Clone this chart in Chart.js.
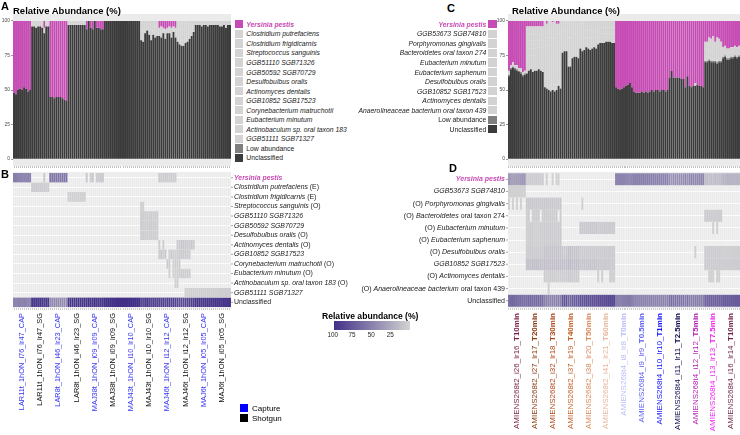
<!DOCTYPE html>
<html><head><meta charset="utf-8">
<script src="https://cdn.jsdelivr.net/npm/chart.js@4.4.1/dist/chart.umd.min.js"></script>
<style>
body{margin:0;width:740px;height:435px;position:relative;overflow:hidden;background:#fff;font-family:'Liberation Sans',Arial,sans-serif;color:#000}
.abs{position:absolute}
.tag{position:absolute;font-weight:bold;font-size:11px;line-height:11px}
.ttl{position:absolute;font-weight:bold;font-size:9.5px;line-height:10px;white-space:nowrap}
.legrow{display:flex;align-items:center;height:9.55px;font-size:6.8px;white-space:nowrap;color:#1a1a1a}
.sw{width:8.3px;height:8.3px;flex:none}
</style></head><body>
<canvas id="cA" class="abs" style="left:0;top:10px" width="232" height="162"></canvas>
<canvas id="cC" class="abs" style="left:494px;top:10px" width="246" height="162"></canvas>
<canvas id="cB" class="abs" style="left:0;top:165px" width="370" height="270"></canvas>
<canvas id="cD" class="abs" style="left:355px;top:165px" width="385" height="270"></canvas>
<div class="tag" style="left:1px;top:1px">A</div>
<div class="tag" style="left:1px;top:169px">B</div>
<div class="tag" style="left:447px;top:3px">C</div>
<div class="tag" style="left:449px;top:163px">D</div>
<div class="ttl" style="left:13px;top:6px">Relative Abundance (%)</div>
<div class="ttl" style="left:512px;top:6px">Relative Abundance (%)</div>
<div id="legA" class="abs" style="left:235px;top:19.5px"></div>
<div id="legC" class="abs" style="left:340px;top:19.5px;width:156.5px"></div>
<div id="cbar" class="abs" style="left:0;top:0"></div>
<div id="capLeg" class="abs" style="left:240px;top:403px"></div>
<script>
// ---------------- DATA ----------------
const Z9 = [0,0,0,0,0,0,0,0,0];
const COLS = 9; // replicate columns per sample

// Panel A / B samples
const samplesA = ['LAR11t_1hON_i76_lr47_CAP','LAR11t_1hON_i76_lr47_SG','LAR8t_1hON_i46_lr23_CAP','LAR8t_1hON_i46_lr23_SG',
  'MAJ38t_1hON_i09_lr09_CAP','MAJ38t_1hON_i09_lr09_SG','MAJ43t_1hON_i10_lr10_CAP','MAJ43t_1hON_i10_lr10_SG',
  'MAJ46t_1hON_i12_lr12_CAP','MAJ46t_1hON_i12_lr12_SG','MAJ6t_1hON_i05_lr05_CAP','MAJ6t_1hON_i05_lr05_SG'];
const sampleTypeA = ['Capture','Shotgun','Capture','Shotgun','Capture','Shotgun','Capture','Shotgun','Capture','Shotgun','Capture','Shotgun'];

const aYersinia = [52,53,50,49,50,48,49,51,50, 0,0,0,0,0,0,5,0,0, 55,55,56,55,55,55,56,57,58, ...Z9,
  6,0,5,6,0,5,5,6,6, ...Z9, ...Z9, ...Z9, 5,4,5,6,5,4,5,4,5, ...Z9, ...Z9, ...Z9];
const aCputrefaciens = [...Z9, 4,4,5,4,4,5,4,4,4, ...Z9, ...Z9, ...Z9, ...Z9, ...Z9, ...Z9, ...Z9, ...Z9, ...Z9, ...Z9];
const aCfrigidicarnis = [...Z9, ...Z9, ...Z9, 3,3,3,3,3,3,3,3,3, ...Z9, ...Z9, ...Z9, ...Z9, ...Z9, ...Z9, ...Z9, ...Z9];
const aStreptococcus = [...Z9, ...Z9, ...Z9, ...Z9, ...Z9, ...Z9, ...Z9, 3,3,0,0,0,0,0,0,0, ...Z9, ...Z9, ...Z9, ...Z9];
const aGGB51110 = [...Z9, ...Z9, ...Z9, ...Z9, ...Z9, ...Z9, ...Z9, 4,4,3,2,3,5,3,4,4, ...Z9, ...Z9, ...Z9, ...Z9];
const aGGB50592 = [...Z9, ...Z9, ...Z9, ...Z9, ...Z9, ...Z9, ...Z9, 4,4,3,3,4,5,4,4,4, ...Z9, ...Z9, ...Z9, ...Z9];
const aDesulfobulbus = [...Z9, ...Z9, ...Z9, ...Z9, ...Z9, ...Z9, ...Z9, 3,4,3,2,3,4,3,4,3, ...Z9, ...Z9, ...Z9, ...Z9];
const aActinomyces = [...Z9, ...Z9, ...Z9, ...Z9, ...Z9, ...Z9, ...Z9, ...Z9, 3,0,2,0,0,0,0,0,0, 5,6,8,8,6,6,5,7,5, ...Z9, ...Z9];
const aGGB10852 = [...Z9, ...Z9, ...Z9, ...Z9, ...Z9, ...Z9, ...Z9, ...Z9, 3,8,2,7,0,2,7,2,3, 4,5,6,6,5,4,3,0,0, ...Z9, ...Z9];
const aCorynebacterium = [...Z9, ...Z9, ...Z9, ...Z9, ...Z9, ...Z9, ...Z9, ...Z9, 0,0,0,0,4,2,0,1,2, 2,3,0,0,0,0,0,0,0, ...Z9, ...Z9];
const aEubMinutum = [...Z9, ...Z9, ...Z9, ...Z9, ...Z9, ...Z9, ...Z9, ...Z9, 0,0,0,0,0,1,0,1,1, 2,3,4,4,3,3,3,0,0, ...Z9, ...Z9];
const aActinobaculum = [...Z9, ...Z9, ...Z9, ...Z9, ...Z9, ...Z9, ...Z9, ...Z9, 0,0,0,0,0,0,0,0,1, 2,0,0,0,0,0,0,0,0, ...Z9, ...Z9];
const aGGB51111 = [...Z9, ...Z9, ...Z9, ...Z9, ...Z9, ...Z9, ...Z9, ...Z9, ...Z9, 0,0,0,0,2,2,2,4,3, 3,3,3,4,3,3,4,3,3, 3,3,3,4,4,3,5,3,3];
const aLowAbundance = [...Z9, ...Z9, ...Z9, ...Z9, ...Z9, ...Z9, ...Z9, ...Z9, ...Z9, ...Z9, ...Z9, ...Z9];
const aUnclassified = [48,47,50,51,50,52,51,49,50, 96,96,95,96,96,95,91,96,96, 45,45,44,45,45,45,44,43,42,
  97,97,97,97,97,97,97,97,97, 94,100,95,94,100,95,95,94,94, 100,100,100,100,100,100,100,100,100,
  100,100,100,100,100,100,100,100,100, 86,85,91,93,90,86,90,88,89, 89,88,91,87,91,91,88,92,88,
  85,83,82,82,84,85,87,89,92, 97,97,97,96,97,97,96,97,97, 97,97,97,96,96,97,95,97,97];

// Panel C / D samples
const samplesC = ['AMIENS268t2_i26_lr16_','AMIENS268t2_i27_lr17_','AMIENS268t2_i32_lr18_','AMIENS268t2_i37_lr19_',
  'AMIENS268t2_i38_lr20_','AMIENS268t2_i41_lr21_','AMIENS268t4_i8_lr8_','AMIENS268t4_i9_lr9_','AMIENS268t4_i10_lr10_',
  'AMIENS268t4_i11_lr11_','AMIENS268t4_i12_lr12_','AMIENS268t4_i13_lr13_','AMIENS268t4_i16_lr14_'];
const timesC = ['T10min','T20min','T30min','T40min','T50min','T60min','T0min','T0.5min','T1min','T2.5min','T5min','T7.5min','T10min'];

const cYersinia = [36,32,30,32,32,34,34,37,36, 4,4,4,4,4,4,4,4,4, 0,2,0,0,1,0,2,2,0, ...Z9, ...Z9, ...Z9,
  48,49,50,49,48,47,46,45,48, 51,52,52,52,51,52,51,52,51, 50,51,50,50,51,50,50,51,50,
  41,36,41,41,41,41,42,42,48, 40,47,48,47,45,46,47,47,48, 15,15,12,13,11,15,12,13,15, 19,18,20,20,19,19,18,19,18];
const cGGB53673 = [2,2,2,2,2,2,2,2,2, ...Z9, ...Z9, ...Z9, ...Z9, ...Z9, ...Z9, ...Z9, ...Z9, ...Z9, ...Z9, ...Z9, ...Z9];
const cPorphyromonas = [1,0,1,0,1,0,1,0,0, 6,6,6,6,6,6,6,6,6, 7,7,7,7,7,7,7,7,7, ...Z9, 0,2,0,0,0,0,0,0,0, ...Z9, ...Z9, ...Z9, ...Z9, ...Z9, ...Z9, ...Z9, ...Z9];
const cBacteroidetes = [...Z9, 4,4,0,4,4,4,4,0,4, 5,5,5,5,5,5,5,0,5, ...Z9, ...Z9, ...Z9, ...Z9, ...Z9, ...Z9, ...Z9, ...Z9, 5,5,5,5,5,5,5,5,5, ...Z9];
const cEubMinutum = [...Z9, 4,3,5,3,3,2,3,5,4, 5,5,5,6,5,6,5,6,6, ...Z9, 7,7,7,6,7,7,7,6,7, 5,5,5,5,5,5,5,5,5, ...Z9, ...Z9, ...Z9, ...Z9, ...Z9, 0,0,0,0,2,0,2,0,0, ...Z9];
const cEubSaphenum = [...Z9, 3,3,5,3,3,3,2,4,4, 5,5,5,6,5,6,5,6,6, ...Z9, ...Z9, ...Z9, ...Z9, ...Z9, ...Z9, ...Z9, ...Z9, ...Z9, ...Z9];
const cDesulfobulbus = [...Z9, 5,5,5,5,5,5,5,5,5, 10,10,10,10,10,10,10,10,10, 7,6,6,12,12,9,9,9,9, 5,5,5,5,5,5,5,5,5,
  4,4,4,4,4,4,4,4,4, ...Z9, ...Z9, ...Z9, ...Z9, 0,0,0,0,2,0,0,0,0, 4,4,4,4,4,4,4,4,4, 3,3,3,3,3,3,3,3,3];
const cGGB10852 = [...Z9, 12,11,10,12,11,12,11,12,10, 12,12,12,12,12,12,12,12,12, 12,12,12,15,15,13,12,12,13, 8,8,9,8,8,9,8,8,8,
  6,7,5,7,6,6,4,5,5, ...Z9, ...Z9, ...Z9, ...Z9, ...Z9, 5,5,5,5,5,5,5,5,5, 4,4,4,4,4,4,4,4,4];
const cActinomyces = [...Z9, ...Z9, 4,3,4,5,5,5,4,4,3, 4,4,4,6,6,5,5,5,5, ...Z9, 2,0,2,0,0,0,2,2,2, ...Z9, ...Z9, ...Z9, ...Z9, ...Z9, 0,0,2,2,2,0,2,2,0, ...Z9];
const cAnaerolineaceae = [...Z9, ...Z9, 0,0,2,0,0,0,0,0,0, ...Z9, ...Z9, ...Z9, ...Z9, ...Z9, ...Z9, ...Z9, ...Z9, ...Z9, ...Z9];
const cLowAbundance = [1,1,1,1,1,1,1,1,1, ...Z9, ...Z9, ...Z9, ...Z9, ...Z9, ...Z9, ...Z9, ...Z9, ...Z9, ...Z9, 1,1,1,1,1,1,1,1,1, 1,1,1,1,1,1,1,1,1];
const cUnclassified = [60,65,66,65,64,63,62,60,61, 62,64,65,63,64,64,65,64,63, 52,51,50,49,50,49,50,53,51,
  77,78,78,67,67,73,74,74,73, 80,78,79,81,80,79,80,81,80, 83,84,84,84,85,85,85,84,84,
  52,51,50,51,52,53,54,55,52, 49,48,48,48,49,48,49,48,49, 50,49,50,50,49,50,50,49,50,
  59,64,59,59,59,59,58,58,52, 60,53,52,53,53,54,53,53,52, 70,70,71,70,70,70,69,70,70, 73,74,72,72,73,73,74,73,74];

const yTicks = [0,25,50,75,100];
const cbarTicks = [100,75,50,25];

// ---------------- STYLE ----------------
const MAGENTA = '#c64bb4', LIGHT = '#d3d3d3', LOWC = '#7f7f7f', DARK = '#3b3b3b', PANEL = '#ebebeb';
const HI = [66,48,135], LO = [211,211,211];
const FONT = "'Liberation Sans', Arial, sans-serif";
Chart.defaults.font.family = FONT;

function heatColor(v){
  const t = Math.min(v,100)/100;
  return 'rgb(' + LO.map((c,i)=>Math.round(c+(HI[i]-c)*t)).join(',') + ')';
}
function fontFor(st, size){
  if (st==='y') return `italic bold ${size}px ${FONT}`;
  if (st==='i') return `italic ${size}px ${FONT}`;
  if (st==='b') return `bold ${size}px ${FONT}`;
  return `${size}px ${FONT}`;
}
function drawSegs(ctx, segs, x, y, align, size, color){
  const w = segs.map(s=>{ctx.font=fontFor(s[1],size); return ctx.measureText(s[0]).width;});
  const total = w.reduce((a,b)=>a+b,0);
  let cx = align==='right' ? x-total : x;
  ctx.textAlign='left';
  segs.forEach((s,i)=>{ctx.font=fontFor(s[1],size); ctx.fillStyle = s[1]==='y' ? MAGENTA : (s[2]||color); ctx.fillText(s[0],cx,y); cx+=w[i];});
}
const panelBg = {id:'panelBg', beforeDraw(chart){const {ctx,chartArea:a}=chart; ctx.save(); ctx.fillStyle=PANEL; ctx.fillRect(a.left,a.top,a.right-a.left,a.bottom-a.top); ctx.restore();}};

function colLabels(names){ const out=[]; names.forEach(n=>{for(let k=0;k<COLS;k++) out.push(n+'#'+(k+1));}); return out; }

function stackChart(id, labels, series, yWidth, pad){
  return new Chart(document.getElementById(id), {
    type:'bar',
    data:{labels, datasets: series.map(s=>({label:s[0], data:s[1], backgroundColor:s[2],
      borderColor:'rgba(255,255,255,0.06)', borderWidth:{left:0.35,right:0.35,top:0,bottom:0}, borderSkipped:false,
      barPercentage:1, categoryPercentage:1}))},
    options:{responsive:false, animation:false, events:[], layout:{padding:pad},
      plugins:{legend:{display:false}, tooltip:{enabled:false}},
      scales:{
        x:{stacked:true, offset:true, grid:{display:true, offset:false, drawOnChartArea:false, drawTicks:true, tickLength:2, color:'#9a9a9a', lineWidth:0.6},
           border:{display:false}, ticks:{display:false}, afterFit:s=>{s.height=6;}},
        y:{stacked:true, min:-5, max:105, grid:{display:true, drawOnChartArea:false, tickLength:2, color:'#555', lineWidth:0.6},
           border:{display:false}, ticks:{font:{size:5}, color:'#4d4d4d', padding:1},
           afterBuildTicks:s=>{s.ticks=yTicks.map(v=>({value:v}));}, afterFit:s=>{s.width=yWidth;}}
      }},
    plugins:[panelBg]
  });
}

function heatChart(id, labels, rows, pad, labelCfg){
  const n = rows.length;
  const lblPlugin = {id:'lbl', afterDraw(chart){
    const ctx=chart.ctx, a=chart.chartArea, xs=chart.scales.x, ys=chart.scales.y;
    ctx.save(); ctx.textBaseline='middle';
    labelCfg.rowLabels.forEach((segs,r)=>{
      const y = ys.getPixelForValue(r);
      ctx.strokeStyle='#666'; ctx.lineWidth=0.6; ctx.beginPath();
      if (labelCfg.side==='right'){ ctx.moveTo(a.right,y); ctx.lineTo(a.right+2,y); ctx.stroke(); drawSegs(ctx,segs,a.right+3,y,'left',labelCfg.rowSize,'#1a1a1a'); }
      else { ctx.moveTo(a.left,y); ctx.lineTo(a.left-2,y); ctx.stroke(); drawSegs(ctx,segs,a.left-3,y,'right',labelCfg.rowSize,'#1a1a1a'); }
    });
    labelCfg.sampleLabels.forEach((segs,i)=>{
      const x = xs.getPixelForValue(i*COLS+(COLS-1)/2);
      ctx.save(); ctx.translate(x, a.bottom+5); ctx.rotate(-Math.PI/2);
      drawSegs(ctx, segs, 0, 0, 'right', labelCfg.sampleSize, labelCfg.sampleColors[i]);
      ctx.restore();
    });
    ctx.restore();
  }};
  return new Chart(document.getElementById(id), {
    type:'bar',
    data:{labels, datasets: rows.map((vals,r)=>({data: vals.map(v=> v>0 ? [r-0.5, r+0.5] : null),
      backgroundColor: vals.map(v=>heatColor(v)), grouped:false, barPercentage:1, categoryPercentage:1,
      borderColor:'rgba(255,255,255,0.10)', borderWidth:{left:0.3,right:0.3,top:0,bottom:0}, borderSkipped:false}))},
    options:{responsive:false, animation:false, events:[], layout:{padding:pad},
      plugins:{legend:{display:false}, tooltip:{enabled:false}},
      scales:{
        x:{offset:true, grid:{display:true, offset:false, drawOnChartArea:true, drawTicks:true, tickLength:2, color:'rgba(255,255,255,0.5)', tickColor:'#9a9a9a', lineWidth:0.5},
           border:{display:false}, ticks:{display:false}, afterFit:s=>{s.height=127;}},
        y:{min:-0.6, max:n-0.4, reverse:true, grid:{display:true, drawTicks:false, color:'#ffffff', lineWidth:0.8},
           border:{display:false}, ticks:{display:false}, afterBuildTicks:s=>{s.ticks=rows.map((_,i)=>({value:i}));}, afterFit:s=>{s.width=0;}}
      }},
    plugins:[panelBg, lblPlugin]
  });
}

// ---------------- PANEL A ----------------
const labelsA = colLabels(samplesA);
stackChart('cA', labelsA, [
  ['Unclassified', aUnclassified, DARK], ['Low abundance', aLowAbundance, LOWC],
  ['GGB51111 SGB71327', aGGB51111, LIGHT], ['Actinobaculum sp. oral taxon 183', aActinobaculum, LIGHT],
  ['Eubacterium minutum', aEubMinutum, LIGHT], ['Corynebacterium matruchotii', aCorynebacterium, LIGHT],
  ['GGB10852 SGB17523', aGGB10852, LIGHT], ['Actinomyces dentalis', aActinomyces, LIGHT],
  ['Desulfobulbus oralis', aDesulfobulbus, LIGHT], ['GGB50592 SGB70729', aGGB50592, LIGHT],
  ['GGB51110 SGB71326', aGGB51110, LIGHT], ['Streptococcus sanguinis', aStreptococcus, LIGHT],
  ['Clostridium frigidicarnis', aCfrigidicarnis, LIGHT], ['Clostridium putrefaciens', aCputrefaciens, LIGHT],
  ['Yersinia pestis', aYersinia, MAGENTA]
], 13, {left:0, top:3.4, right:1, bottom:0});

// ---------------- PANEL C ----------------
const labelsC = colLabels(samplesC);
stackChart('cC', labelsC, [
  ['Unclassified', cUnclassified, DARK], ['Low abundance', cLowAbundance, LOWC],
  ['Anaerolineaceae bacterium oral taxon 439', cAnaerolineaceae, LIGHT], ['Actinomyces dentalis', cActinomyces, LIGHT],
  ['GGB10852 SGB17523', cGGB10852, LIGHT], ['Desulfobulbus oralis', cDesulfobulbus, LIGHT],
  ['Eubacterium saphenum', cEubSaphenum, LIGHT], ['Eubacterium minutum', cEubMinutum, LIGHT],
  ['Bacteroidetes oral taxon 274', cBacteroidetes, LIGHT], ['Porphyromonas gingivalis', cPorphyromonas, LIGHT],
  ['GGB53673 SGB74810', cGGB53673, LIGHT], ['Yersinia pestis', cYersinia, MAGENTA]
], 14, {left:0, top:3.4, right:0, bottom:0});

// ---------------- PANEL B ----------------
const rowLabelsB = [
  [['Yersinia pestis','y']],
  [['Clostridium putrefaciens','i'],[' (E)','n']],
  [['Clostridium frigidicarnis','i'],[' (E)','n']],
  [['Streptococcus sanguinis','i'],[' (O)','n']],
  [['GGB51110 SGB71326','i']],
  [['GGB50592 SGB70729','i']],
  [['Desulfobulbus oralis','i'],[' (O)','n']],
  [['Actinomyces dentalis','i'],[' (O)','n']],
  [['GGB10852 SGB17523','i']],
  [['Corynebacterium matruchotii','i'],[' (O)','n']],
  [['Eubacterium minutum','i'],[' (O)','n']],
  [['Actinobaculum sp. oral taxon 183','i'],[' (O)','n']],
  [['GGB51111 SGB71327','i']],
  [['Unclassified','n']]
];
heatChart('cB', labelsA, [aYersinia, aCputrefaciens, aCfrigidicarnis, aStreptococcus, aGGB51110, aGGB50592,
  aDesulfobulbus, aActinomyces, aGGB10852, aCorynebacterium, aEubMinutum, aActinobaculum, aGGB51111, aUnclassified],
  {left:13, top:7, right:139, bottom:0},
  {side:'right', rowLabels:rowLabelsB, rowSize:6.9, sampleSize:7.4,
   sampleLabels: samplesA.map(s=>[[s,'n']]),
   sampleColors: sampleTypeA.map(t=> t==='Capture' ? '#3535f5' : '#111111')});

// ---------------- PANEL D ----------------
const rowLabelsD = [
  [['Yersinia pestis','y']],
  [['GGB53673 SGB74810','i']],
  [['(O) ','n'],['Porphyromonas gingivalis','i']],
  [['(O) ','n'],['Bacteroidetes','i'],[' oral taxon 274','n']],
  [['(O) ','n'],['Eubacterium minutum','i']],
  [['(O) ','n'],['Eubacterium saphenum','i']],
  [['(O) ','n'],['Desulfobulbus oralis','i']],
  [['GGB10852 SGB17523','i']],
  [['(O) ','n'],['Actinomyces dentalis','i']],
  [['(O) ','n'],['Anaerolineaceae bacterium','i'],[' oral taxon 439','n']],
  [['Unclassified','n']]
];
const sampleColorsC = ['#7d1d45','#8b3a12','#b04a1a','#c8602a','#d98b5c','#e8b79d','#b9bdf5','#5d62f2','#1414ff','#0c0c50','#b31fb3','#f025f0','#6e1f47'];
heatChart('cD', labelsC, [cYersinia, cGGB53673, cPorphyromonas, cBacteroidetes, cEubMinutum, cEubSaphenum,
  cDesulfobulbus, cGGB10852, cActinomyces, cAnaerolineaceae, cUnclassified],
  {left:153, top:7, right:0, bottom:0},
  {side:'left', rowLabels:rowLabelsD, rowSize:7, sampleSize:8,
   sampleLabels: samplesC.map((s,i)=>[[s,'n'],[timesC[i],'b']]),
   sampleColors: sampleColorsC});

// ---------------- LEGENDS ----------------
const legendNamesA = ['Yersinia pestis','Clostridium putrefaciens','Clostridium frigidicarnis','Streptococcus sanguinis',
  'GGB51110 SGB71326','GGB50592 SGB70729','Desulfobulbus oralis','Actinomyces dentalis','GGB10852 SGB17523',
  'Corynebacterium matruchotii','Eubacterium minutum','Actinobaculum sp. oral taxon 183','GGB51111 SGB71327','Low abundance','Unclassified'];
const legendNamesC = ['Yersinia pestis','GGB53673 SGB74810','Porphyromonas gingivalis','Bacteroidetes oral taxon 274',
  'Eubacterium minutum','Eubacterium saphenum','Desulfobulbus oralis','GGB10852 SGB17523','Actinomyces dentalis',
  'Anaerolineaceae bacterium oral taxon 439','Low abundance','Unclassified'];
function legColor(n){ return n==='Yersinia pestis'?MAGENTA : n==='Low abundance'?LOWC : n==='Unclassified'?DARK : LIGHT; }
function legStyle(n){ return n==='Yersinia pestis' ? 'font-style:italic;font-weight:bold;color:'+MAGENTA : (n==='Low abundance'||n==='Unclassified') ? '' : 'font-style:italic'; }
document.getElementById('legA').innerHTML = legendNamesA.map(n=>
  `<div class="legrow"><span class="sw" style="background:${legColor(n)}"></span><span style="margin-left:3px;${legStyle(n)}">${n}</span></div>`).join('');
document.getElementById('legC').innerHTML = legendNamesC.map(n=>
  `<div class="legrow" style="justify-content:flex-end"><span style="margin-right:2px;${legStyle(n)}">${n}</span><span class="sw" style="background:${legColor(n)}"></span></div>`).join('');

// colour bar
const cb = document.getElementById('cbar');
const cbLeft = 334, cbRight = 409.5;
const cbX = v => cbRight - (v/100)*(cbRight-cbLeft+1.2);
let cbHtml = `<div class="abs" style="left:322px;top:311px;font-weight:bold;font-size:8.6px;white-space:nowrap">Relative abundance (%)</div>`;
cbHtml += `<div class="abs" style="left:${cbLeft}px;top:321px;width:${cbRight-cbLeft}px;height:9px;background:linear-gradient(to right, rgb(${HI.join(',')}), rgb(${LO.join(',')}))"></div>`;
cbarTicks.forEach(v=>{ cbHtml += `<div class="abs" style="left:${cbX(v)-10}px;width:20px;text-align:center;top:331px;font-size:6.3px;color:#222">${v}</div>`; });
cb.innerHTML = cbHtml;

document.getElementById('capLeg').innerHTML =
  `<div style="display:flex;align-items:center;height:10px;font-size:8px"><span style="width:8px;height:8px;background:#0000ff"></span><span style="margin-left:4px">Capture</span></div>`+
  `<div style="display:flex;align-items:center;height:10px;font-size:8px"><span style="width:8px;height:8px;background:#000"></span><span style="margin-left:4px">Shotgun</span></div>`;
</script>
</body></html>
